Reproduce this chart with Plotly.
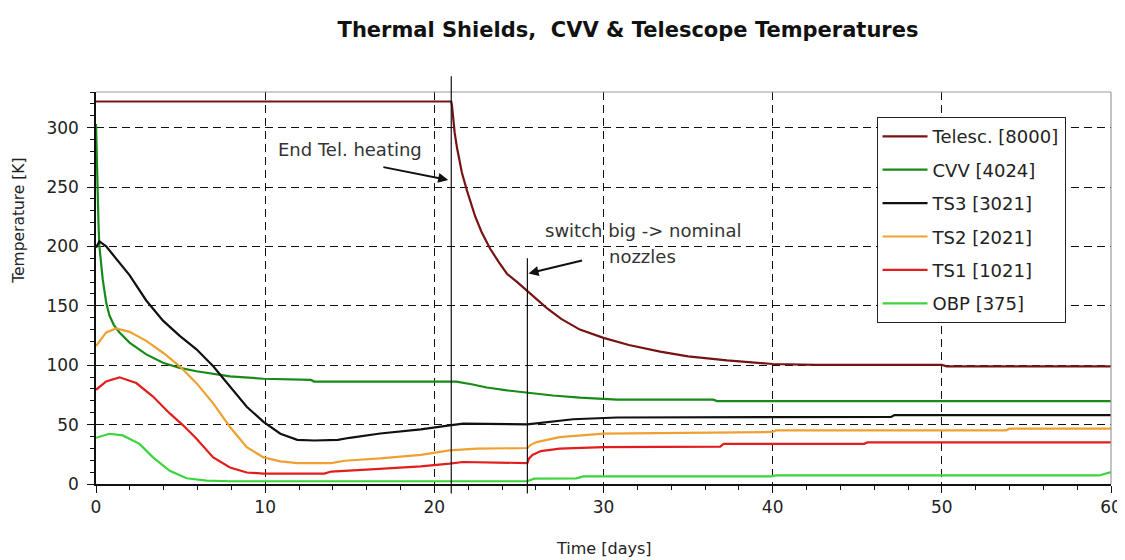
import plotly.graph_objects as go

# ---------------- data ----------------
series_names = ["Telesc. [8000]", "CVV [4024]", "TS3 [3021]", "TS2 [2021]", "TS1 [1021]", "OBP [375]"]
series_colors = ["#761414", "#178a17", "#111111", "#f0a030", "#e31c1c", "#3cd43c"]

tel_t = [0, 21.0, 21.04, 21.1, 21.2, 21.34, 21.5, 21.63, 21.93, 22.2, 22.42, 22.8, 23.3, 23.8, 24.29, 24.9,
         25.47, 26.0, 26.65, 27.5, 28.6, 30, 31.5, 33.35, 35, 37.3, 40, 42.6, 50, 50.3, 60]
tel_T = [322, 322, 319, 310, 296, 283, 271, 262, 247, 235, 225, 212, 198, 187, 177, 170,
         163, 156, 148, 139, 130, 123, 117, 111.5, 107.5, 104, 101, 100.3, 100.3, 99, 99]

cvv_t = [0, 0.04, 0.1, 0.15, 0.2, 0.3, 0.4, 0.6, 0.79, 1.05, 1.39, 1.98, 2.5, 2.97, 3.96, 4.95, 5.94,
         7.92, 9.9, 12.7, 12.9, 21.3, 22.2, 23.1, 24.3, 25.5, 27, 28.6, 30.8, 36.5, 36.7, 60]
cvv_T = [303, 275, 240, 218, 200, 186, 172, 153, 142, 134, 127.6, 119, 113.5, 109.1, 102, 97.7, 94.9,
         90.6, 88.6, 87.6, 86.2, 86.2, 84, 81.2, 78.8, 76.8, 74.5, 72.7, 71, 71, 69.8, 69.8]

ts3_t = [0, 0.2, 0.6, 1.19, 1.98, 2.97, 3.96, 4.95, 5.94, 6.93, 7.92, 8.91, 9.9, 10.9, 11.9, 12.9, 14.3,
         15.0, 16.8, 19.2, 20.9, 21.7, 25.5, 26.3, 27, 28.2, 30.8, 47, 47.2, 60]
ts3_T = [199, 204.3, 200, 190, 175.9, 154.5, 137.5, 124.7, 113.4, 99.1, 82.1, 65, 52.3, 42.3, 37.2, 36.6, 37.2,
         38.9, 42.5, 46, 49.4, 50.8, 50.2, 51.6, 53, 54.5, 56, 56.5, 58, 58]

ts2_t = [0, 0.6, 1.19, 1.98, 2.97, 3.96, 4.95, 5.94, 6.93, 7.92, 8.91, 9.9, 10.9, 11.9, 13.9, 14.7, 16.8,
         19.2, 20.9, 22.5, 25.5, 25.7, 26.05, 27.4, 30, 34.5, 40, 40.2, 53.8, 54, 60]
ts2_T = [116.2, 127.6, 131, 128.1, 120.5, 110.5, 99.1, 84.9, 67.9, 48, 31, 22.4, 19, 17.6, 17.6, 19.6, 21.5,
         24.5, 28.3, 29.7, 30.3, 33, 35.3, 39.5, 42.4, 43, 43.8, 45.2, 45.2, 46.6, 46.6]

ts1_t = [0, 0.6, 1.39, 2.38, 3.37, 4.36, 5.15, 5.94, 6.93, 7.92, 8.91, 9.9, 13.5, 13.9, 16.5, 19.2, 20.9,
         21.7, 25.5, 25.6, 25.8, 26.3, 27.4, 28.6, 30, 36.9, 37.1, 45.4, 45.6, 60]
ts1_T = [79.3, 86.4, 89.8, 85, 73.6, 59.4, 49.4, 38.1, 22.4, 13.9, 9.7, 8.8, 8.8, 10.5, 12.5, 14.8, 17.1,
         18.5, 17.6, 21.5, 24.5, 27.7, 29.7, 30.2, 31.1, 31.5, 33.8, 33.8, 35, 35]

obp_t = [0, 0.79, 1.58, 2.57, 3.37, 4.36, 5.35, 6.53, 7.92, 25.5, 25.9, 28.4, 28.8, 39.9, 40.2, 59.3, 60]
obp_T = [38.9, 42.3, 40.9, 33.8, 22.4, 11.1, 4.8, 2.8, 2.3, 2.3, 4.5, 4.8, 6.4, 6.4, 7.2, 7.2, 10]

series_t = [tel_t, cvv_t, ts3_t, ts2_t, ts1_t, obp_t]
series_T = [tel_T, cvv_T, ts3_T, ts2_T, ts1_T, obp_T]

# events marked by vertical lines (days)
event_days = [21.0, 25.5]

title_text = "Thermal Shields,\u00a0 CVV & Telescope Temperatures"
x_title = "Time [days]"
y_title = "Temperature [K]"

FONT = "DejaVu Sans, Arial, sans-serif"

# the page body adds an 8 px margin, so the figure is 8 px smaller each way
FIG_W, FIG_H = 1117, 552

fig = go.Figure()
for i, (name, color, t, T) in enumerate(zip(series_names, series_colors, series_t, series_T)):
    fig.add_trace(go.Scatter(
        x=t, y=T, mode="lines", name=name,
        line=dict(color=color, width=2.2),
        legendgroup=f"g{i}",
    ))

fig.update_layout(
    width=FIG_W, height=FIG_H,
    margin=dict(l=88, r=14, t=84, b=76, autoexpand=False),
    paper_bgcolor="white", plot_bgcolor="white",
    showlegend=True,
    title=dict(text=title_text, x=620 / FIG_W, xref="container", xanchor="center",
               y=1 - 22 / FIG_H, yref="container", yanchor="middle", automargin=False,
               font=dict(family=FONT, size=21, color="#111111", weight="bold")),
    legend=dict(x=0.769, y=0.936, xanchor="left", yanchor="top",
                bgcolor="white", bordercolor="#222222", borderwidth=1,
                font=dict(family=FONT, size=18, color="#222222"),
                tracegroupgap=7, itemwidth=45, traceorder="grouped"),
    font=dict(family=FONT, size=17, color="#222222"),
)

fig.update_xaxes(
    range=[0, 60], tick0=0, dtick=10, automargin=False,
    showline=True, linecolor="#111111", linewidth=1.5,
    ticks="outside", ticklen=7, tickcolor="#111111",
    showgrid=True, gridcolor="#111111", gridwidth=1, griddash="8px,5px",
    zeroline=False,
    tickfont=dict(family=FONT, size=17, color="#222222"),
    minor=dict(dtick=2, ticks="outside", ticklen=4, tickcolor="#111111", showgrid=False),
)
fig.update_yaxes(
    range=[0, 330], tick0=0, dtick=50, automargin=False,
    showline=True, linecolor="#111111", linewidth=1.5,
    ticks="outside", ticklen=7, tickcolor="#111111",
    showgrid=True, gridcolor="#111111", gridwidth=1, griddash="8px,5px",
    zeroline=False,
    tickfont=dict(family=FONT, size=17, color="#222222"),
    ticklabelstandoff=5,
    minor=dict(dtick=10, ticks="outside", ticklen=4, tickcolor="#111111", showgrid=False),
)

# gray top / right frame
fig.add_shape(type="line", xref="paper", yref="paper", x0=0, x1=1, y0=1, y1=1,
              line=dict(color="#9a9a9a", width=1.2), layer="above")
fig.add_shape(type="line", xref="paper", yref="paper", x0=1, x1=1, y0=0, y1=1,
              line=dict(color="#9a9a9a", width=1.2), layer="above")

# event lines
event_tops = [1.04, 0.576]
for d, top in zip(event_days, event_tops):
    fig.add_shape(type="line", xref="x", yref="paper", x0=d, x1=d, y0=-0.024, y1=top,
                  line=dict(color="#111111", width=1.2), layer="above")

# annotations
ANN_FONT = dict(family=FONT, size=18, color="#333333")
fig.add_annotation(x=10.64, y=282, xref="x", yref="y", text="End Tel. heating",
                   showarrow=False, xanchor="left", yanchor="middle", font=ANN_FONT)
fig.add_annotation(x=20.82, y=256, ax=16.9, ay=267, xref="x", yref="y", axref="x", ayref="y",
                   text="", showarrow=True, arrowhead=2, arrowsize=1, arrowwidth=2,
                   arrowcolor="#111111", standoff=0)
fig.add_annotation(x=26.42, y=213, xref="x", yref="y", text="switch big -> nominal",
                   showarrow=False, xanchor="left", yanchor="middle", font=ANN_FONT)
fig.add_annotation(x=30.2, y=191.5, xref="x", yref="y", text="nozzles",
                   showarrow=False, xanchor="left", yanchor="middle", font=ANN_FONT)
fig.add_annotation(x=25.57, y=177.3, ax=28.82, ay=188.5, xref="x", yref="y", axref="x", ayref="y",
                   text="", showarrow=True, arrowhead=2, arrowsize=1, arrowwidth=2,
                   arrowcolor="#111111", standoff=0)

# axis titles
fig.add_annotation(x=-0.076, y=0.671, xref="paper", yref="paper", text=y_title,
                   textangle=-90, showarrow=False, xanchor="center", yanchor="middle",
                   font=dict(family=FONT, size=15.5, color="#222222"))
fig.add_annotation(x=0.5, y=-0.164, xref="paper", yref="paper", text=x_title,
                   showarrow=False, xanchor="center", yanchor="middle",
                   font=dict(family=FONT, size=16, color="#222222"))

fig.write_html("out.html")
